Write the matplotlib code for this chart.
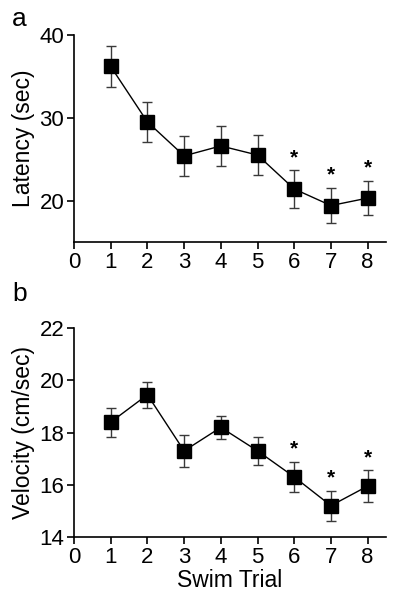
import matplotlib
matplotlib.use("Agg")
import matplotlib.pyplot as plt

plt.rcParams['font.family'] = ['Liberation Sans', 'DejaVu Sans']

trials = [1, 2, 3, 4, 5, 6, 7, 8]
latency = [36.2, 29.5, 25.4, 26.6, 25.5, 21.4, 19.4, 20.3]
latency_sem = [2.45, 2.45, 2.4, 2.45, 2.4, 2.25, 2.1, 2.1]
velocity = [18.4, 19.45, 17.3, 18.2, 17.3, 16.3, 15.2, 15.95]
velocity_sem = [0.55, 0.5, 0.62, 0.45, 0.55, 0.57, 0.57, 0.6]
sig_trials = [6, 7, 8]

fig = plt.figure(figsize=(4, 6), dpi=100)

def panel(rect, y, err, ylim, yticks, ylabel, star_off, xlabel=None):
    ax = fig.add_axes(rect)
    ax.errorbar(trials, y, yerr=err, fmt='none', ecolor='#3a3a3a',
                elinewidth=1.0, capsize=3.5, capthick=1.0, zorder=2)
    ax.plot(trials, y, color='black', lw=1.0, marker='s', markersize=10,
            markerfacecolor='black', markeredgecolor='black', zorder=3)
    for t in sig_trials:
        i = trials.index(t)
        ax.text(t, y[i] + err[i] + star_off, '*', ha='center', va='center',
                fontsize=15, fontweight='bold')
    ax.set_xlim(0, 8.5)
    ax.set_ylim(*ylim)
    ax.set_xticks(range(0, 9))
    ax.set_yticks(yticks)
    ax.spines['top'].set_visible(False)
    ax.spines['right'].set_visible(False)
    ax.spines['left'].set_linewidth(1.2)
    ax.spines['bottom'].set_linewidth(1.2)
    ax.tick_params(direction='out', length=5, width=1.2, labelsize=16, pad=2)
    ax.set_ylabel(ylabel, fontsize=16.5, labelpad=3)
    if xlabel:
        ax.set_xlabel(xlabel, fontsize=16.5, labelpad=1)
    return ax

ax1 = panel([0.185, 0.5967, 0.78, 0.345], latency, latency_sem, (15, 40),
            [20, 30, 40], 'Latency (sec)', 1.55)
ax2 = panel([0.185, 0.105, 0.78, 0.348], velocity, velocity_sem, (14, 22),
            [14, 16, 18, 20, 22], 'Velocity (cm/sec)', 0.5, xlabel='Swim Trial')

fig.text(0.048, 0.968, 'a', fontsize=19, ha='center', va='center')
fig.text(0.048, 0.51, 'b', fontsize=19, ha='center', va='center')

fig.savefig('out.png', dpi=100)
